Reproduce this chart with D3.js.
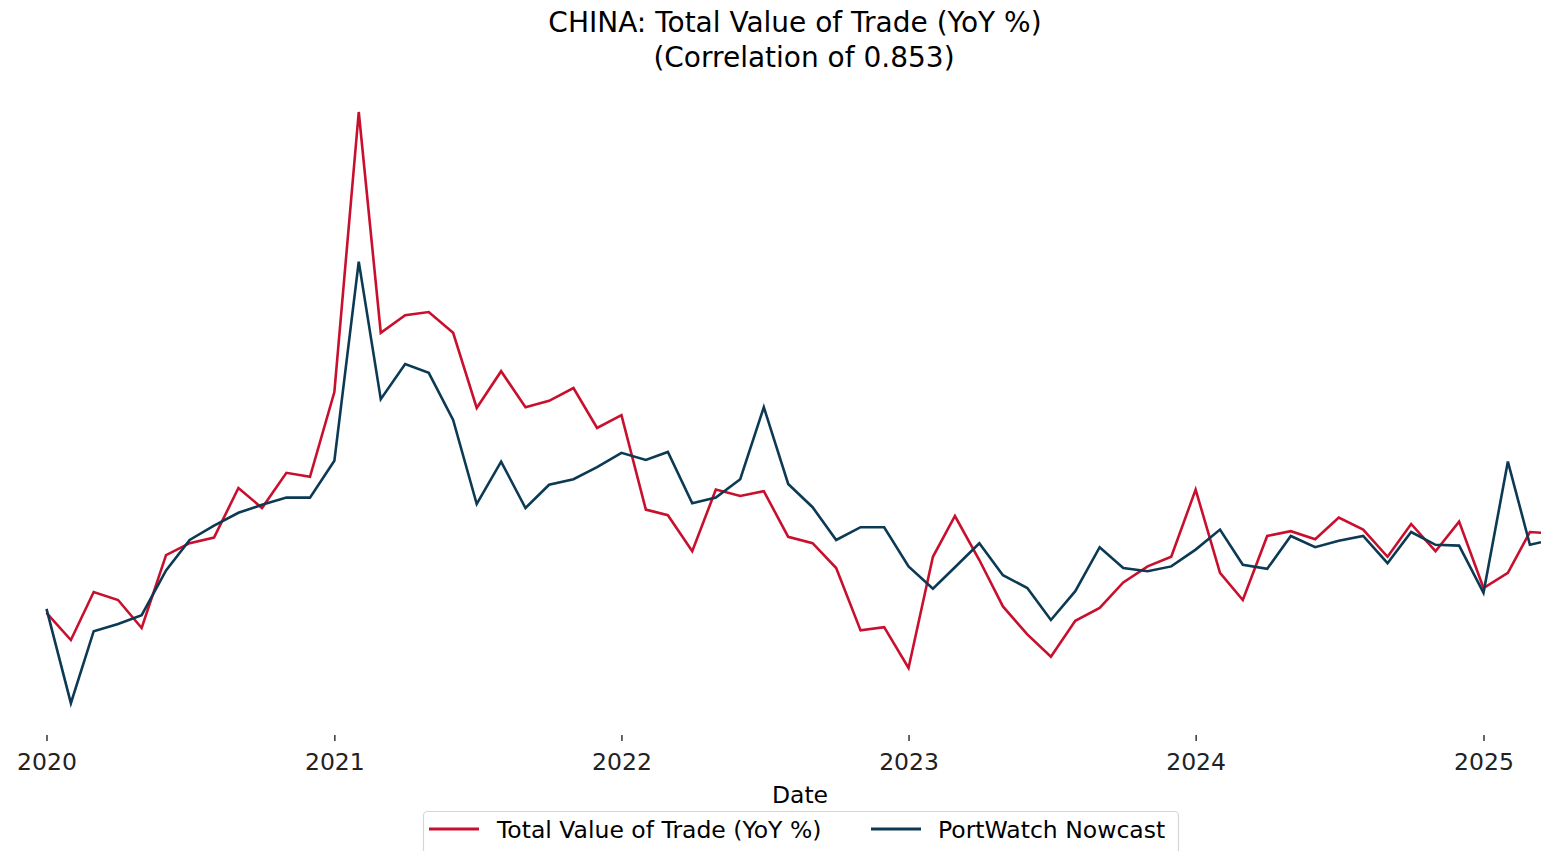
<!DOCTYPE html>
<html>
<head>
<meta charset="utf-8">
<script src="https://cdn.jsdelivr.net/npm/d3@7"></script>
<style>
    body { margin: 0; background: #fff; }
    svg { display: block; font-family: "DejaVu Sans", sans-serif; }
</style>
</head>
<body>
<div id="plotSect"></div>
<script>
// Monthly values, Jan 2020 .. Apr 2025 (YoY %)
let months = d3.range(64).map(function(i) { return new Date(2020, i, 1); });

let tradeValues = [
    -6.6, -10.0, -4.0, -5.0, -8.5, 0.6, 2.1, 2.8, 9.0, 6.5, 10.9, 10.4,
    21.0, 56.0, 28.4, 30.6, 31.0, 28.4, 19.0, 23.6, 19.1, 19.9, 21.5, 16.5,
    18.1, 6.3, 5.6, 1.1, 8.8, 8.0, 8.6, 2.9, 2.1, -1.0, -8.8, -8.4,
    -13.5, 0.4, 5.5, 0.0, -5.8, -9.3, -12.1, -7.6, -6.0, -2.8, -0.8, 0.4,
    8.8, -1.6, -5.0, 3.0, 3.6, 2.6, 5.3, 3.8, 0.4, 4.5, 1.1, 4.8,
    -3.5, -1.6, 3.5, 3.3
];

let nowcastValues = [
    -6.1, -17.9, -8.9, -8.0, -6.9, -1.3, 2.5, 4.3, 5.9, 6.9, 7.8, 7.8,
    12.4, 37.3, 20.1, 24.5, 23.4, 17.5, 7.0, 12.3, 6.5, 9.4, 10.1, 11.6,
    13.4, 12.5, 13.5, 7.1, 7.8, 10.1, 19.1, 9.5, 6.6, 2.5, 4.1, 4.1,
    -0.8, -3.6, -0.9, 2.1, -1.9, -3.5, -7.5, -3.9, 1.6, -1.0, -1.4, -0.8,
    1.3, 3.8, -0.6, -1.1, 3.0, 1.6, 2.4, 3.0, -0.4, 3.5, 1.9, 1.8,
    -4.1, 12.3, 1.9, 2.6
];

let tickYears = [2020, 2021, 2022, 2023, 2024, 2025];

let seriesNames = ["Total Value of Trade (YoY %)", "PortWatch Nowcast"];
let seriesColors = ["#c8102e", "#0c3a54"];

// Chart setup //

let SVGwidth = 1541,
SVGheight = 851;

let svg = d3.select("#plotSect").append("svg")
    .attr("width", SVGwidth)
    .attr("height", SVGheight);

let xScale = d3.scaleTime()
    .domain([new Date(2020, 0, 1), new Date(2025, 0, 1)])
    .range([46.5, 1483.5]);

let yScale = d3.scaleLinear()
    .domain([-20, 60])
    .range([720, 80]);

let line = d3.line()
    .x(function(d, i) { return xScale(months[i]); })
    .y(function(d) { return yScale(d); });

svg.append("text")
    .attr("x", 795)
    .attr("y", 32)
    .style("text-anchor", "middle")
    .style("font-size", "28px")
    .style("fill", "#000")
    .text("CHINA: Total Value of Trade (YoY %)");

svg.append("text")
    .attr("x", 804)
    .attr("y", 67)
    .style("text-anchor", "middle")
    .style("font-size", "28px")
    .style("fill", "#000")
    .text("(Correlation of 0.853)");

let xAxis = d3.axisBottom(xScale)
    .tickValues(tickYears.map(function(y) { return new Date(y, 0, 1); }))
    .tickFormat(d3.timeFormat("%Y"))
    .tickSize(6)
    .tickPadding(12);

let xAxisG = svg.append("g")
    .attr("class", "xAxis")
    .attr("transform", "translate(0,735)")
    .call(xAxis);

xAxisG.select(".domain").remove();
xAxisG.selectAll(".tick line").attr("stroke", "#000").attr("stroke-width", 1.2);
xAxisG.selectAll(".tick text")
    .style("font-size", "23.5px")
    .style("font-family", "DejaVu Sans, sans-serif")
    .attr("fill", "#222");

svg.append("text")
    .attr("x", 800)
    .attr("y", 803)
    .style("text-anchor", "middle")
    .style("font-size", "23.5px")
    .style("fill", "#000")
    .text("Date");

[tradeValues, nowcastValues].forEach(function(vals, k) {
    svg.append("path")
        .datum(vals)
        .attr("fill", "none")
        .attr("stroke", seriesColors[k])
        .attr("stroke-width", 2.6)
        .attr("stroke-linejoin", "miter")
        .attr("d", line);
});

// Legend //

let legend = svg.append("g").attr("class", "legend");

legend.append("rect")
    .attr("x", 423.5)
    .attr("y", 811.5)
    .attr("width", 755)
    .attr("height", 60)
    .attr("rx", 4)
    .attr("fill", "#fff")
    .attr("stroke", "#d6d6d6")
    .attr("stroke-width", 1.2);

let legendX = [429, 871];
let textX = [497, 938];

seriesNames.forEach(function(name, k) {
    legend.append("line")
        .attr("x1", legendX[k])
        .attr("x2", legendX[k] + 50)
        .attr("y1", 829)
        .attr("y2", 829)
        .attr("stroke", seriesColors[k])
        .attr("stroke-width", 3);
    legend.append("text")
        .attr("x", textX[k])
        .attr("y", 838)
        .style("font-size", "23.5px")
        .style("fill", "#000")
        .text(name);
});
</script>
</body>
</html>
